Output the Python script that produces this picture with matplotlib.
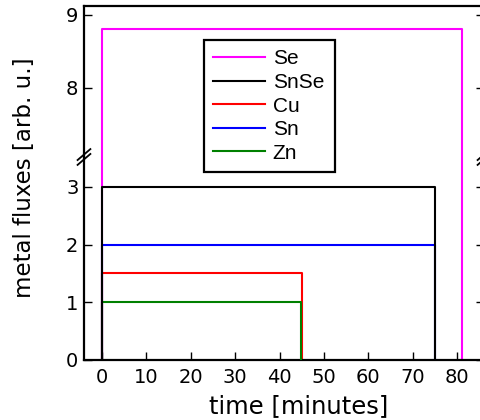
import matplotlib
matplotlib.use('Agg')
import matplotlib.pyplot as plt

# ------------------------------
# 1. Data (flux profiles vs time)
# ------------------------------
labels = ['Se', 'SnSe', 'Cu', 'Sn', 'Zn']
colors = ['magenta', 'black', 'red', 'blue', 'green']

time_se = [0, 0, 81, 81]
flux_se = [0, 8.8, 8.8, 0]
time_snse = [0, 0, 75, 75]
flux_snse = [0, 3, 3, 0]
time_cu = [0, 0, 45, 45]
flux_cu = [0, 1.5, 1.5, 0]
time_sn = [0, 0, 75, 75]
flux_sn = [0, 2, 2, 0]
time_zn = [0, 0, 44.8, 44.8]
flux_zn = [0, 1, 1, 0]

series = [(time_se, flux_se), (time_snse, flux_snse), (time_cu, flux_cu),
          (time_sn, flux_sn), (time_zn, flux_zn)]
zorders = [2, 4, 2, 2, 3]

xticks = [0, 10, 20, 30, 40, 50, 60, 70, 80]
yticks_low = [0, 1, 2, 3]
yticks_high = [8, 9]

# ------------------------------
# 2. Figure with broken y axis
# ------------------------------
fig = plt.figure(figsize=(4.81, 4.20), dpi=100)
ax_hi = fig.add_axes([0.1746, 0.6262, 0.8316, 0.3595])
ax_lo = fig.add_axes([0.1746, 0.1429, 0.8316, 0.4833])

handles = []
for ax in (ax_hi, ax_lo):
    for (t, f), lab, c, z in zip(series, labels, colors, zorders):
        line, = ax.plot(t, f, color=c, lw=1.5, label=lab, zorder=z)
        if ax is ax_lo:
            handles.append(line)
    ax.set_xlim(-4, 86)
    for sp in ax.spines.values():
        sp.set_linewidth(1.6)
    ax.tick_params(direction='in', length=6, width=1, labelsize=14,
                   right=True, top=False)
    ax.tick_params(axis='y', pad=4)
    ax.tick_params(axis='x', pad=6)

ax_hi.set_ylim(7.05, 9.12)
ax_hi.set_yticks(yticks_high)
ax_hi.spines['bottom'].set_visible(False)
ax_hi.tick_params(axis='x', bottom=False, labelbottom=False)

ax_lo.set_ylim(0, 3.52)
ax_lo.set_yticks(yticks_low)
ax_lo.set_xticks(xticks)
ax_lo.spines['top'].set_visible(False)

# break marks "//" on both sides
dx, dy = 0.016, 0.027
for xs in (0, 1):
    for off in (-0.012, 0.012):
        ax_lo.plot([xs - dx, xs + dx], [1 + off - dy, 1 + off + dy],
                   transform=ax_lo.transAxes, color='black', lw=1.3,
                   clip_on=False, zorder=5)

# ------------------------------
# 3. Labels and legend
# ------------------------------
fig.text(0.62, 0.033, 'time [minutes]', fontsize=17.5,
         ha='center', va='center')
fig.text(0.05, 0.577, 'metal fluxes [arb. u.]', fontsize=16.5,
         rotation=90, ha='center', va='center')

leg = fig.legend(handles, labels, loc='upper left',
                 bbox_to_anchor=(0.4241, 0.5, 0.2723, 0.4048), mode='expand',
                 borderaxespad=0, fancybox=False, framealpha=1,
                 edgecolor='black', handlelength=2.5, handletextpad=0.35,
                 labelspacing=0.22, borderpad=0.45,
                 prop={'family': 'Liberation Sans', 'size': 15})
leg.get_frame().set_linewidth(1.6)

plt.savefig('out.png', dpi=100)
plt.close()
